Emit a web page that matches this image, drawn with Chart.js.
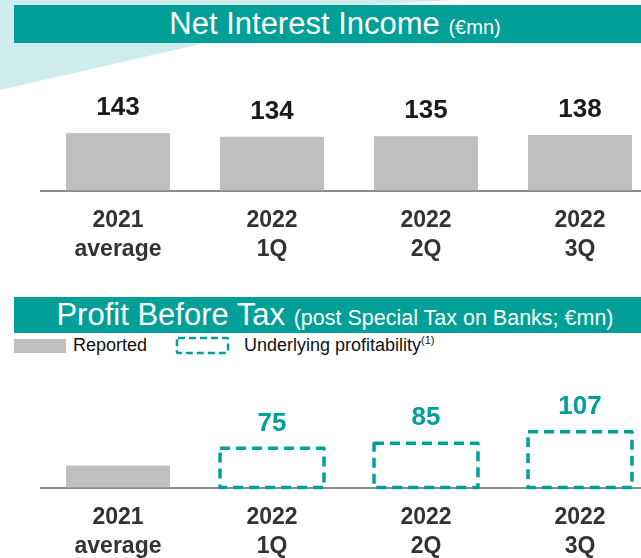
<!DOCTYPE html>
<html>
<head>
<meta charset="utf-8">
<script src="https://cdn.jsdelivr.net/npm/chart.js@4.4.0/dist/chart.umd.min.js"></script>
<style>
html, body { margin:0; padding:0; width:641px; height:558px; overflow:hidden; background:#fff; font-family:'Liberation Sans', Arial, sans-serif; }
.wedge { position:absolute; left:0; top:0; width:460px; height:92px; background:#cdeceb; clip-path:polygon(0 0, 455px 0, 370px 5px, 0 90px); }
.band { position:absolute; left:14px; width:612px; padding-left:15px; background:#00a098; color:#fff; text-align:center; white-space:nowrap; }
#band1 { top:5px; height:38px; line-height:38px; font-size:31px; }
#band2 { top:297px; height:36px; line-height:36px; font-size:31px; }
#band1 small { font-size:20px; }
#band2 small { font-size:21.5px; }
.legend { position:absolute; top:335px; font-size:18px; color:#111; line-height:20px; }
.legend sup { font-size:11px; line-height:0; }
.chartbox { position:absolute; left:0; }
</style>
</head>
<body>
<div class="wedge"></div>
<div class="band" id="band1">Net Interest Income <small>(€mn)</small></div>
<div class="band" id="band2">Profit Before Tax <small>(post Special Tax on Banks; €mn)</small></div>

<div style="position:absolute;left:14px;top:339px;width:52px;height:14px;background:#bfbfbf"></div>
<div class="legend" style="left:73px">Reported</div>
<svg style="position:absolute;left:175px;top:336px" width="56" height="20">
  <rect x="2" y="2" width="51" height="15" rx="1" fill="none" stroke="#00a098" stroke-width="2.5" stroke-dasharray="7 4"/>
</svg>
<div class="legend" style="left:244px">Underlying profitability<sup>(1)</sup></div>

<div class="chartbox" style="top:60px"><canvas id="niiChart" width="660" height="231"></canvas></div>
<div class="chartbox" style="top:360px"><canvas id="pbtChart" width="660" height="219"></canvas></div>

<script>
// categories and values
const categories = [['2021', 'average'], ['2022', '1Q'], ['2022', '2Q'], ['2022', '3Q']];
const niiValues = [143, 134, 135, 138];
const pbtReported = [42, null, null, null];
const pbtUnderlying = [null, 75, 85, 107];

const TEAL = '#00a098';
const GREY = '#bfbfbf';
const FONT = "'Liberation Sans', Arial, sans-serif";
Chart.defaults.font.family = FONT;

// numbers above the bars
const valueLabels = {
    id: 'valueLabels',
    afterDatasetsDraw(chart) {
        const ctx = chart.ctx;
        chart.data.datasets.forEach((ds, i) => {
            if (!ds.labelColor) return;
            chart.getDatasetMeta(i).data.forEach((bar, j) => {
                const v = ds.data[j];
                if (v == null) return;
                ctx.save();
                ctx.font = 'bold 26px ' + FONT;
                ctx.fillStyle = ds.labelColor;
                ctx.textAlign = 'center';
                ctx.textBaseline = 'middle';
                ctx.fillText(v, bar.x, bar.y - 25);
                ctx.restore();
            });
        });
    }
};

// dashed outline for the underlying bars (bar element has no borderDash)
const dashedBoxes = {
    id: 'dashedBoxes',
    afterDatasetsDraw(chart) {
        const ctx = chart.ctx;
        chart.data.datasets.forEach((ds, i) => {
            if (!ds.dashed) return;
            chart.getDatasetMeta(i).data.forEach((bar, j) => {
                if (ds.data[j] == null) return;
                const p = bar.getProps(['x', 'y', 'base', 'width'], true);
                ctx.save();
                ctx.strokeStyle = TEAL;
                ctx.lineWidth = 3.5;
                ctx.lineJoin = 'round';
                ctx.setLineDash([10, 6]);
                ctx.strokeRect(p.x - p.width / 2, p.y, p.width, p.base - p.y);
                ctx.restore();
            });
        });
    }
};

function axes(yMax) {
    return {
        x: {
            grid: { display: false, drawTicks: false },
            border: { display: true, color: '#8c8c8c', width: 2 },
            ticks: { color: '#333', padding: 16, font: { size: 23, weight: 'bold', lineHeight: 1.25 } }
        },
        y: { display: false, min: 0, max: yMax }
    };
}

new Chart(document.getElementById('niiChart'), {
    type: 'bar',
    data: {
        labels: categories,
        datasets: [{ data: niiValues, backgroundColor: GREY, labelColor: '#1a1a1a' }]
    },
    options: {
        responsive: false, animation: false,
        categoryPercentage: 1, barPercentage: 0.675,
        layout: { padding: { left: 41, right: 3, top: 20, bottom: 11 } },
        plugins: { legend: { display: false }, tooltip: { enabled: false } },
        scales: axes(275)
    },
    plugins: [valueLabels]
});

new Chart(document.getElementById('pbtChart'), {
    type: 'bar',
    data: {
        labels: categories,
        datasets: [
            { label: 'Reported', data: pbtReported, backgroundColor: GREY },
            { label: 'Underlying profitability', data: pbtUnderlying, backgroundColor: 'rgba(0,0,0,0)', dashed: true, labelColor: TEAL }
        ]
    },
    options: {
        responsive: false, animation: false,
        grouped: false,
        categoryPercentage: 1, barPercentage: 0.675,
        layout: { padding: { left: 41, right: 3, top: 20, bottom: 2 } },
        plugins: { legend: { display: false }, tooltip: { enabled: false } },
        scales: axes(206)
    },
    plugins: [dashedBoxes, valueLabels]
});
</script>
</body>
</html>
